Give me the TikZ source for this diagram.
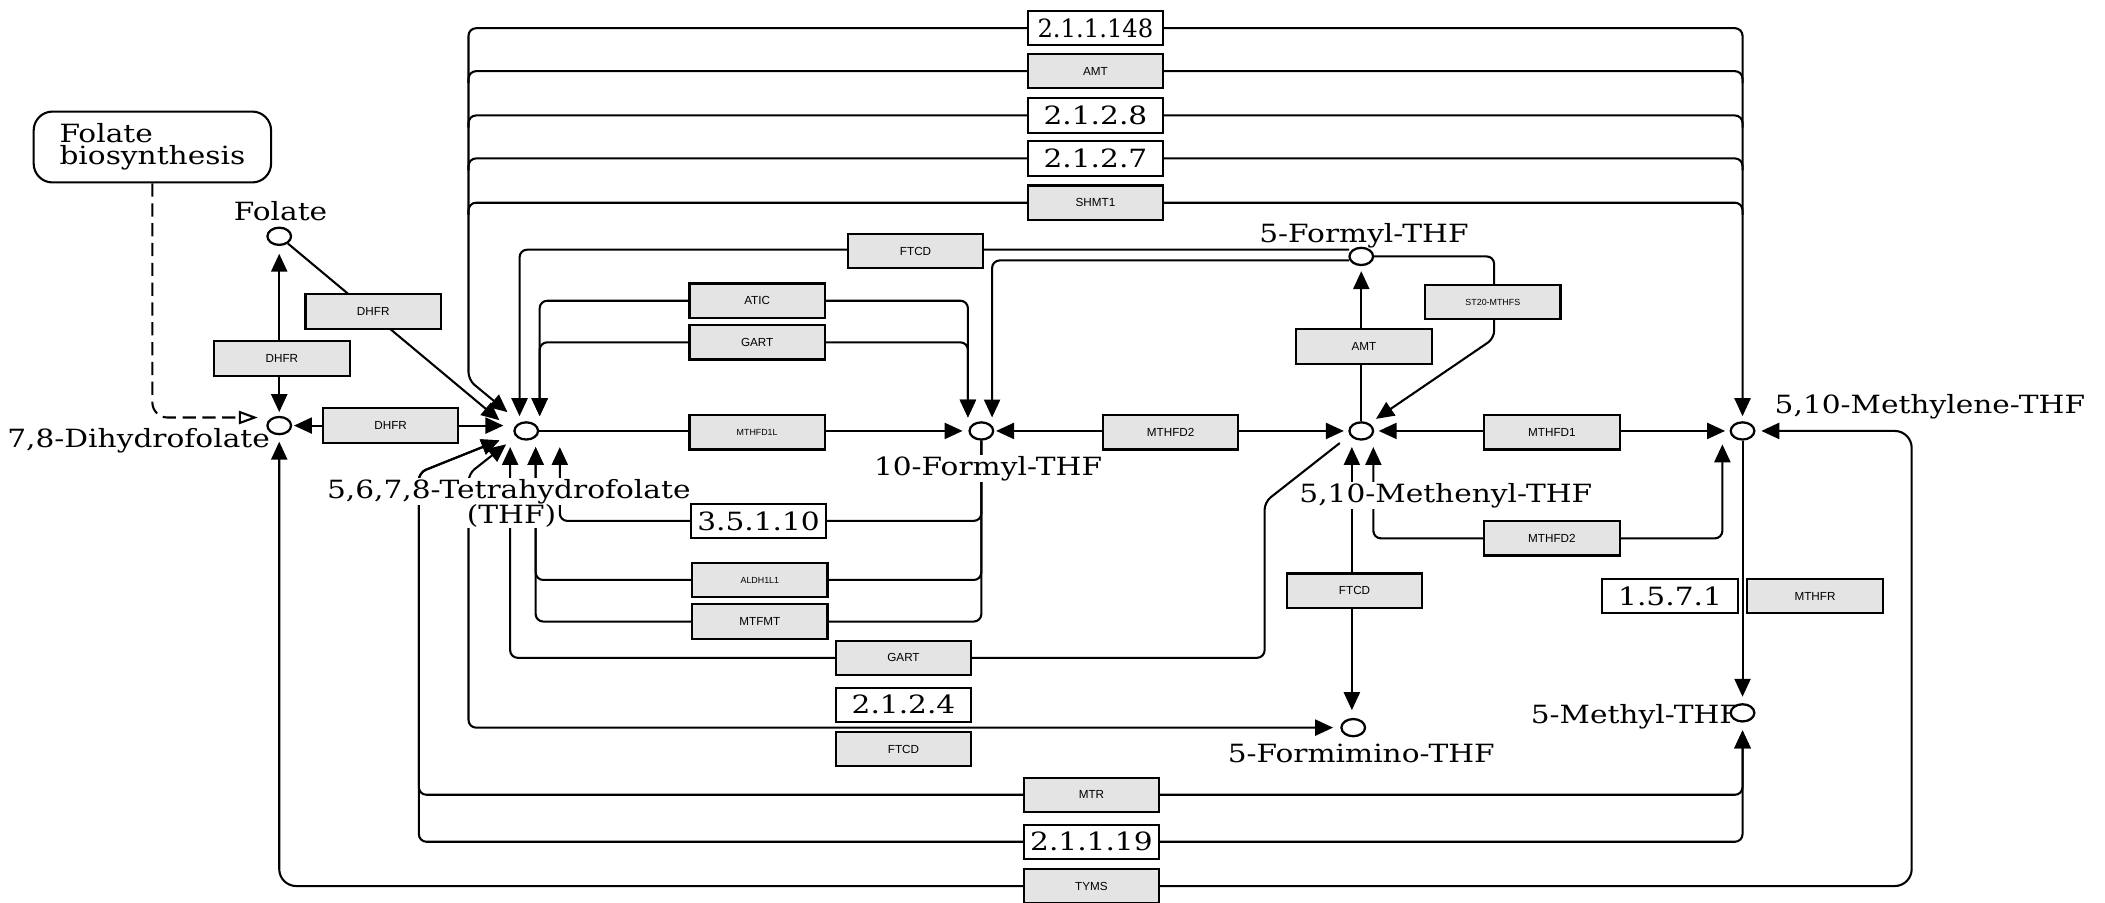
\documentclass[tikz,border=0pt]{standalone}
\usepackage{fontspec}
\usepackage{graphicx}
\newfontfamily\cpdfont{DejaVu Serif}[FakeStretch=1.18]
\newfontfamily\genefont{Liberation Sans}
\usetikzlibrary{arrows.meta,calc,shapes.geometric,backgrounds}
\definecolor{genegray}{HTML}{E4E4E4}

\tikzset{
  cpd/.style={ellipse,draw,fill=white,line width=1.2pt,minimum width=0.44cm,minimum height=0.32cm,inner sep=0pt},
  cpdname/.style={font=\cpdfont\fontsize{13.3}{14}\selectfont,inner sep=0.5pt},
  hidebg/.style={fill=white},
  gene/.style={draw,fill=genegray,line width=1.1pt,minimum width=2.52cm,minimum height=0.64cm,inner sep=0pt,font=\genefont\fontsize{6.2}{7}\selectfont},
  genesm/.style={gene,font=\genefont\fontsize{4.7}{5}\selectfont},
  ecbox/.style={draw,fill=white,line width=1.1pt,minimum width=2.52cm,minimum height=0.64cm,inner sep=0pt,font=\cpdfont\fontsize{13.3}{14}\selectfont},
  rxn/.style={line width=1.1pt,rounded corners=4pt}
}

\begin{document}
\begin{tikzpicture}[x=0.025cm,y=-0.025cm,>={Triangle[length=9.5pt,width=8.5pt]}]
  \useasboundingbox (0,0) rectangle (1568,672);
% Map link
  \node[draw,line width=1.1pt,rounded corners=10pt,minimum width=4.42cm,minimum height=1.32cm,
        align=left,font=\cpdfont\fontsize{13.3}{11.4}\selectfont] (fbio) at (113.5,109.5) {Folate\\biosynthesis};
% Compound names
  \node[cpdname,anchor=base] (lblFolate) at (209,164) {Folate};
  \node[cpdname,anchor=base east] (lblDhf) at (202,333) {7,8-Dihydrofolate};
  \node[cpdname,hidebg,anchor=base] (lblThf) at (379,371) {5,6,7,8-Tetrahydrofolate};
  \node[cpdname,hidebg,anchor=base] (lblThfB) at (381,390) {(THF)};
  \node[cpdname,hidebg,anchor=base] (lblTenf) at (736,354) {10-Formyl-THF};
  \node[cpdname,anchor=base] (lblFivef) at (1016,181) {5-Formyl-THF};
  \node[cpdname,hidebg,anchor=base] (lblMenyl) at (1077,374) {5,10-Methenyl-THF};
  \node[cpdname,anchor=base west] (lblMlene) at (1321,308) {5,10-Methylene-THF};
  \node[cpdname,anchor=base east] (lblMethyl) at (1297,539) {5-Methyl-THF};
  \node[cpdname,anchor=base] (lblFimino) at (1014,568) {5-Formimino-THF};
% Compounds
  \node[cpd] (folate) at (208,176) {};
  \node[cpd] (dhf) at (208,317) {};
  \node[cpd] (thf) at (392,321) {};
  \node[cpd] (tenf) at (731,321) {};
  \node[cpd] (fivef) at (1014,191) {};
  \node[cpd] (menyl) at (1014,321) {};
  \node[cpd] (mlene) at (1298,321) {};
  \node[cpd] (methyl) at (1298,531) {};
  \node[cpd] (fimino) at (1008,542) {};
% Enzymes round DHF
  \node[gene] (dhfrA) at (210,267) {DHFR};
  \node[gene] (dhfrB) at (278,232) {DHFR};
  \node[gene] (dhfrC) at (291,317) {DHFR};
% Enzymes THF <-> 5,10-Methylene-THF
  \node[ecbox] (ec148) at (816,21) {\scalebox{0.82}[1]{2.1.1.148}};
  \node[gene] (amtA) at (816,53) {AMT};
  \node[ecbox] (ec2128) at (816,86) {2.1.2.8};
  \node[ecbox] (ec2127) at (816,118) {2.1.2.7};
  \node[gene] (shmt) at (816,151) {SHMT1};
% Enzymes round 10-Formyl-THF
  \node[gene] (ftcdA) at (682,187) {FTCD};
  \node[gene] (atic) at (564,224) {ATIC};
  \node[gene] (gartA) at (564,255) {GART};
  \node[genesm] (mthfdl) at (564,322) {MTHFD1L};
  \node[gene] (mthfdA) at (872,322) {MTHFD2};
  \node[ecbox] (ec35110) at (565,388) {3.5.1.10};
  \node[genesm] (aldh) at (566,432) {ALDH1L1};
  \node[gene] (mtfmt) at (566,463) {MTFMT};
% Enzymes round 5,10-Methenyl-THF
  \node[gene] (amtB) at (1016,258) {AMT};
  \node[genesm] (st20) at (1112,225) {ST20-MTHFS};
  \node[gene] (mthfdB) at (1156,322) {MTHFD1};
  \node[gene] (mthfdC) at (1156,401) {MTHFD2};
  \node[gene] (gartB) at (673,490) {GART};
  \node[gene] (ftcdB) at (1009,440) {FTCD};
  \node[ecbox] (ec2124) at (673,525) {2.1.2.4};
  \node[gene] (ftcdC) at (673,558) {FTCD};
% Enzymes round 5-Methyl-THF
  \node[ecbox] (ec1571) at (1244,444) {1.5.7.1};
  \node[gene] (mthfr) at (1352,444) {MTHFR};
  \node[gene] (mtr) at (813,592) {MTR};
  \node[ecbox] (ec21119) at (813,627) {2.1.1.19};
  \node[gene] (tyms) at (813,660) {TYMS};

  \begin{scope}[on background layer]
  \begin{scope}[rxn]
% THF <-> 5,10-Methylene-THF (outer loop)
  \draw[<->] ($(thf)+(-14,-14)$) -- (349,283) |- (ec148.center) -| ($(mlene)+(0,-11)$);
  \foreach \b in {amtA,ec2128,ec2127,shmt}
    \draw ($(349,0 |- \b)+(0,9)$) |- (\b.center) -| ($(1298,0 |- \b)+(0,9)$);
% Folate, DHF and THF
  \draw[->] (folate) -- ($(thf)+(-20,-8)$);
  \draw[<->] ($(dhf)+(0,-10)$) -- ($(folate)+(0,13)$);
  \draw[<->] ($(dhf)+(11,0)$) -- ($(thf)+(-17,-4)$);
  \draw[dashed,dash pattern=on 7pt off 3.5pt,rounded corners=8pt,-{Triangle[open,length=10pt,width=7pt]}]
    (fbio) |- ($(dhf)+(-16,-6)$);
% 5-Formyl-THF -> THF
  \draw[->] ($(fivef)+(-9,-5)$) -| ($(thf)+(-5,-11)$);
% THF <-> 10-Formyl-THF
  \draw[<->] ($(thf)+(10,-11)$) |- (atic.center) -| ($(tenf)+(-10,-10)$);
  \draw[<->] ($(thf)+(10,-11)$) |- (gartA.center) -| ($(tenf)+(-10,-10)$);
  \draw[->] (thf) -- ($(tenf)+(-14,0)$);
% 5-Formyl-THF -> 10-Formyl-THF
  \draw[->] ($(fivef)+(-9,3)$) -| ($(tenf)+(8,-10)$);
% 10-Formyl-THF <-> 5,10-Methenyl-THF
  \draw[<->] ($(tenf)+(11,0)$) -- ($(menyl)+(-13,0)$);
% 5,10-Methenyl-THF <-> 5,10-Methylene-THF
  \draw[<->] ($(menyl)+(13,0)$) -- ($(mlene)+(-13,0)$);
  \draw[<->] ($(menyl)+(9,12)$) |- (mthfdC.center) -| ($(mlene)+(-15,10)$);
% 5,10-Methenyl-THF <-> 5-Formyl-THF
  \draw[->] (menyl) -- ($(fivef)+(0,11)$);
  \draw[->] (fivef) -| (1113,252) -- ($(menyl)+(11,-9)$);
% 5,10-Methenyl-THF -> THF
  \draw[->] ($(menyl)+(-16,9)$) -- (942,374) |- (gartB.center) -| ($(thf)+(-12,12)$);
% 10-Formyl-THF -> THF
  \draw[->] (tenf) |- (ec35110.center) -| ($(thf)+(25,12)$);
  \draw[->] (tenf) |- (aldh.center) -| ($(thf)+(7,12)$);
  \draw[->] (tenf) |- (mtfmt.center) -| ($(thf)+(7,12)$);
% THF <-> 5-Formimino-THF
  \draw[<->] ($(thf)+(-15,10)$) -- (349,353) |- ($(fimino)+(-15,0)$);
% 5,10-Methenyl-THF <-> 5-Formimino-THF
  \draw[<->] ($(menyl)+(-7,12)$) -- ($(fimino)+(-1,-13)$);
% 5-Methyl-THF <-> THF
  \draw[<->] ($(methyl)+(0,13)$) |- (mtr.center) -| (312,352) -- ($(thf)+(-20,7)$);
  \draw[<->] ($(methyl)+(0,13)$) |- (ec21119.center) -| (312,352) -- ($(thf)+(-20,7)$);
% 5,10-Methylene-THF -> 5-Methyl-THF
  \draw[->] (mlene) -- ($(methyl)+(0,-12)$);
% DHF <-> 5,10-Methylene-THF
  \draw[<->,rounded corners=9pt] ($(dhf)+(0,12)$) |- (tyms.center) -| (1424,321) -- ($(mlene)+(14,0)$);
  \end{scope}
  \end{scope}
\end{tikzpicture}
\end{document}
